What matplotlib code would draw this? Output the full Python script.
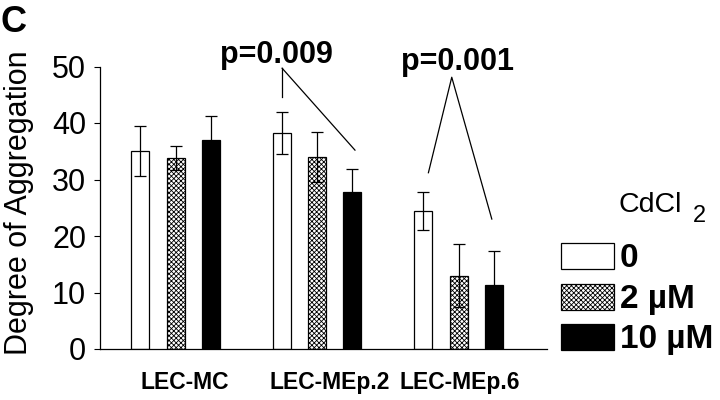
import matplotlib
matplotlib.use("Agg")
import matplotlib.pyplot as plt
from matplotlib.patches import Rectangle
import numpy as np

plt.rcParams['font.family'] = ['Liberation Sans', 'DejaVu Sans']
plt.rcParams['hatch.linewidth'] = 0.6

groups = ["LEC-MC", "LEC-MEp.2", "LEC-MEp.6"]
series = ["0", "2 \u00b5M", "10 \u00b5M"]
means_0 = [35.0, 38.3, 24.4]
means_2 = [33.8, 34.0, 13.0]
means_10 = [37.0, 27.8, 11.4]
err_0 = [4.4, 3.7, 3.4]
err_2 = [2.1, 4.4, 5.6]
err_10 = [4.2, 4.1, 5.9]
yticks = [0, 10, 20, 30, 40, 50]

W, H, DPI = 720, 400, 100
fig = plt.figure(figsize=(W / DPI, H / DPI), dpi=DPI)
ax = fig.add_axes([100 / W, 1 - 349 / H, 446.7 / W, 282.5 / H])

x = np.arange(len(groups))
off = 0.25
bw = 0.127
styles = [dict(facecolor='white', hatch=None),
          dict(facecolor='white', hatch='xxxxxxx'),
          dict(facecolor='black', hatch=None)]
for i, (m, e) in enumerate([(means_0, err_0), (means_2, err_2), (means_10, err_10)]):
    xs = x + (i - 1) * off
    ax.bar(xs, m, width=bw, edgecolor='black', linewidth=0.9, zorder=2, **styles[i])
    ax.errorbar(xs, m, yerr=e, fmt='none', ecolor='black', elinewidth=0.9,
                capsize=4.5, capthick=0.9, zorder=3)

ax.set_xlim(-0.534, 2.623)
ax.set_ylim(0, 50)
ax.set_yticks(yticks)
ax.set_yticklabels([str(t) for t in yticks], fontsize=22)
ax.tick_params(axis='y', direction='out', length=4, width=0.8, pad=6)
ax.set_xticks([0.065, 1.09, 2.01])
ax.set_xticklabels(groups, fontsize=16.5, fontweight='bold')
ax.tick_params(axis='x', length=0, pad=16)
for s in ['top', 'right']:
    ax.spines[s].set_visible(False)
for s in ['left', 'bottom']:
    ax.spines[s].set_linewidth(0.9)
ax.set_ylabel("Degree of Aggregation", fontsize=22)
ax.yaxis.set_label_coords(-0.147, 0.517)

# significance annotations
lk = dict(color='black', linewidth=0.9, clip_on=False)
ax.plot([0.753, 0.753], [44.6, 49.7], **lk)
ax.plot([0.753, 1.268], [49.7, 35.2], **lk)
ax.text(0.713, 50.6, "p=0.009", fontsize=22, fontweight='bold', ha='center', va='baseline')
ax.plot([1.787, 1.952, 2.235], [31.2, 48.1, 23.0], **lk)
ax.text(1.99, 49.4, "p=0.001", fontsize=22, fontweight='bold', ha='center', va='baseline')

# panel letter
fig.text(1 / W, 1 - 31.5 / H, "C", fontsize=26, fontweight='bold', ha='left', va='baseline')

# legend
fig.text(619 / W, 1 - 212 / H, "CdCl", fontsize=20.5, ha='left', va='baseline')
fig.text(693 / W, 1 - 222 / H, "2", fontsize=17, ha='left', va='baseline')
boxes = [243, 284, 324]
for i, (lab, y0) in enumerate(zip(series, boxes)):
    r = Rectangle((561 / W, 1 - (y0 + 26) / H), 53 / W, 26 / H, transform=fig.transFigure,
                  facecolor=styles[i]['facecolor'], hatch=styles[i]['hatch'],
                  edgecolor='black', linewidth=0.9)
    fig.patches.append(r)
    fig.text(620 / W, 1 - (y0 + 24) / H, lab, fontsize=24, fontweight='bold',
             ha='left', va='baseline')

fig.savefig("out.png", dpi=DPI)
